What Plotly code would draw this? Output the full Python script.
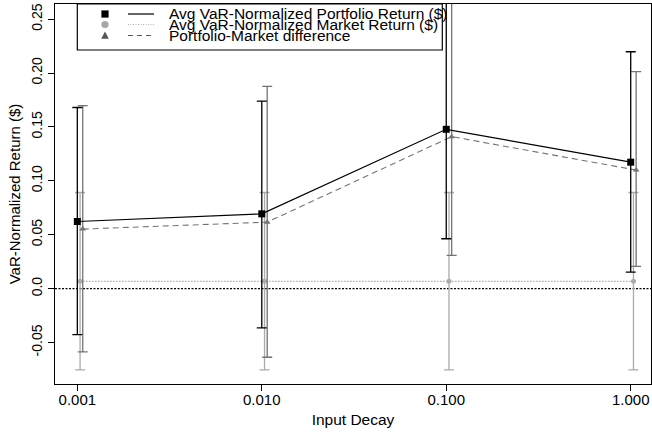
import plotly.graph_objects as go

# Input decay values (x axis, log scale)
decay = [0.001, 0.01, 0.1, 1.0]
x_labels = ["0.001", "0.010", "0.100", "1.000"]

# Average VaR-normalized portfolio return with interval bounds
portfolio_mean = [0.0623, 0.0694, 0.1478, 0.1173]
portfolio_low = [-0.0426, -0.0364, 0.0463, 0.0154]
portfolio_high = [0.1680, 0.1740, 0.2750, 0.2197]

# Average VaR-normalized market return with interval bounds
market_mean = [0.0068, 0.0068, 0.0068, 0.0068]
market_low = [-0.0753, -0.0753, -0.0753, -0.0753]
market_high = [0.0892, 0.0892, 0.0892, 0.0892]

# Portfolio minus market
diff_mean = [0.0553, 0.0617, 0.1410, 0.1100]
diff_low = [-0.0586, -0.0636, 0.0308, 0.0207]
diff_high = [0.1697, 0.1877, 0.2750, 0.2012]

y_ticks = [-0.05, 0.0, 0.05, 0.10, 0.15, 0.20, 0.25]
y_labels = ["-0.05", "0.0", "0.05", "0.10", "0.15", "0.20", "0.25"]

legend_labels = [
    "Avg VaR-Normalized Portfolio Return ($)",
    "Avg VaR-Normalized Market Return ($)",
    "Portfolio-Market difference",
]

# Page / plot area geometry (pixels)
W, H = 652, 436
ML, MR, MT, MB = 55, 1, 4, 52
PW, PH = W - ML - MR, H - MT - MB

BLACK = "#000000"
MARKET_GRAY = "#ababab"
DIFF_GRAY = "#737373"
FONT = "Liberation Sans, Arial, sans-serif"

# Small horizontal offsets so overlapping intervals stay visible
market_x = [d * 1.035 for d in decay]
diff_x = [d * 1.07 for d in decay]


def err(mean, low, high):
    return dict(
        type="data",
        symmetric=False,
        array=[h - m for h, m in zip(high, mean)],
        arrayminus=[m - l for m, l in zip(mean, low)],
        thickness=1.3,
        width=5,
    )


def px_x(p):
    return (p - ML) / PW


def px_y(p):
    return (H - MB - p) / PH


fig = go.Figure()

# Zero reference line
fig.add_shape(type="line", xref="paper", yref="y", x0=0, x1=1, y0=0, y1=0,
              line=dict(color=BLACK, width=1.2, dash="2px,1.5px"), layer="below")

fig.add_trace(go.Scatter(
    x=market_x, y=market_mean, mode="lines+markers", cliponaxis=False,
    line=dict(color=MARKET_GRAY, width=1.1, dash="1.5px,1.5px"),
    marker=dict(symbol="circle", size=5, color=MARKET_GRAY),
    error_y=dict(err(market_mean, market_low, market_high), color=MARKET_GRAY),
    name=legend_labels[1], showlegend=False,
))

fig.add_trace(go.Scatter(
    x=diff_x, y=diff_mean, mode="lines+markers", cliponaxis=False,
    line=dict(color=DIFF_GRAY, width=1.1, dash="6px,4px"),
    marker=dict(symbol="triangle-up", size=6, color=DIFF_GRAY),
    error_y=dict(err(diff_mean, diff_low, diff_high), color=DIFF_GRAY),
    name=legend_labels[2], showlegend=False,
))

fig.add_trace(go.Scatter(
    x=decay, y=portfolio_mean, mode="lines+markers", cliponaxis=False,
    line=dict(color=BLACK, width=1.2),
    marker=dict(symbol="square", size=7, color=BLACK),
    error_y=dict(err(portfolio_mean, portfolio_low, portfolio_high), color=BLACK),
    name=legend_labels[0], showlegend=False,
))

# Boxed legend drawn in paper space
box = dict(x0=77.3, x1=442.3, y0=4, y1=50)
fig.add_shape(type="rect", xref="paper", yref="paper",
              x0=px_x(box["x0"]), x1=px_x(box["x1"]),
              y0=px_y(box["y1"]), y1=px_y(box["y0"]),
              line=dict(color=BLACK, width=1.2), fillcolor="rgba(0,0,0,0)", layer="above")

rows = [14.0, 24.5, 35.5]
sym_x, line_x0, line_x1, text_x = 105, 128, 154, 167
s = 3.6
fig.add_shape(type="rect", xref="paper", yref="paper",
              x0=px_x(sym_x - s), x1=px_x(sym_x + s),
              y0=px_y(rows[0] + s), y1=px_y(rows[0] - s),
              fillcolor=BLACK, line=dict(width=0), layer="above")
fig.add_shape(type="circle", xref="paper", yref="paper",
              x0=px_x(sym_x - s), x1=px_x(sym_x + s),
              y0=px_y(rows[1] + s), y1=px_y(rows[1] - s),
              fillcolor="#a6a6a6", line=dict(width=0), layer="above")
tri = "M {:.5f},{:.5f} L {:.5f},{:.5f} L {:.5f},{:.5f} Z".format(
    px_x(sym_x - s - 0.2), px_y(rows[2] + s - 0.3),
    px_x(sym_x + s + 0.2), px_y(rows[2] + s - 0.3),
    px_x(sym_x), px_y(rows[2] - s - 0.3))
fig.add_shape(type="path", xref="paper", yref="paper", path=tri,
              fillcolor="#555555", line=dict(width=0), layer="above")

line_styles = [
    dict(color=BLACK, width=1.2),
    dict(color="#b5b5b5", width=1.2, dash="1px,1.5px"),
    dict(color="#555555", width=1.2, dash="5px,4px"),
]
for r, ls, lab in zip(rows, line_styles, legend_labels):
    fig.add_shape(type="line", xref="paper", yref="paper",
                  x0=px_x(line_x0), x1=px_x(line_x1), y0=px_y(r), y1=px_y(r),
                  line=ls, layer="above")
    fig.add_annotation(xref="paper", yref="paper", x=px_x(text_x), y=px_y(r - 0.5),
                       text=lab, showarrow=False, xanchor="left", yanchor="middle",
                       font=dict(family=FONT, size=15.5, color=BLACK))

fig.update_xaxes(
    type="log", range=[-3.121, 0.110],
    tickvals=decay, ticktext=x_labels,
    ticks="outside", ticklen=6, tickwidth=1, tickcolor=BLACK,
    showline=True, linecolor=BLACK, linewidth=1.2, mirror=True,
    showgrid=False, zeroline=False, ticklabelstandoff=-4,
    tickfont=dict(family=FONT, size=15, color=BLACK),
    title=dict(text="Input Decay", font=dict(family=FONT, size=15.5, color=BLACK), standoff=7),
)
fig.update_yaxes(
    range=[-0.0884, 0.264],
    tickvals=y_ticks, ticktext=y_labels, tickangle=-90,
    ticks="outside", ticklen=6, tickwidth=1, tickcolor=BLACK,
    showline=True, linecolor=BLACK, linewidth=1.2, mirror=True,
    showgrid=False, zeroline=False,
    tickfont=dict(family=FONT, size=14, color=BLACK),
    title=dict(text="VaR-Normalized Return ($)", font=dict(family=FONT, size=15, color=BLACK), standoff=5),
)

fig.update_layout(
    width=W, height=H,
    margin=dict(l=ML, r=MR, t=MT, b=MB, autoexpand=False),
    paper_bgcolor="white", plot_bgcolor="white",
    showlegend=False,
)

fig.write_html("out.html")
